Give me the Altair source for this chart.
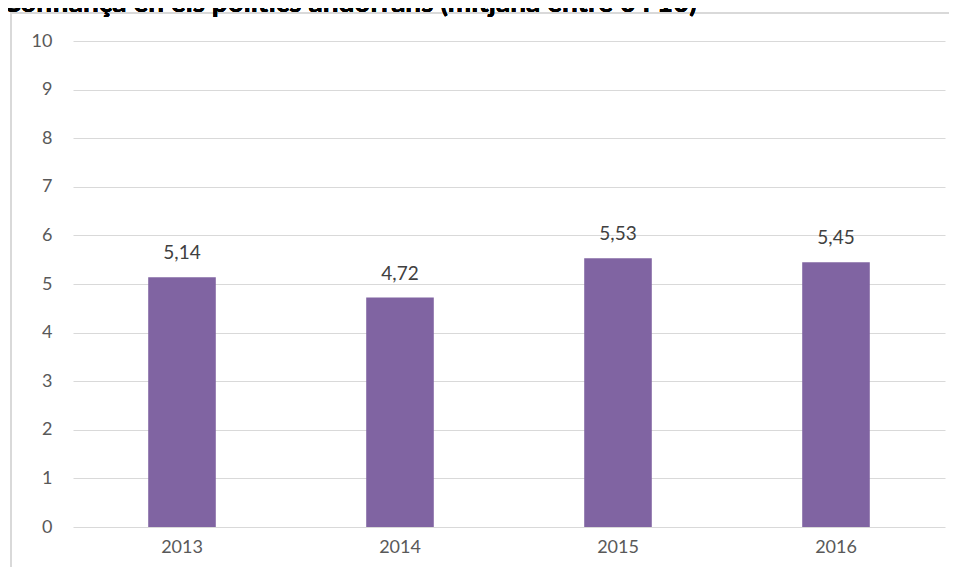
import altair as alt
import pandas as pd

years = ["2013", "2014", "2015", "2016"]
values = [5.14, 4.72, 5.53, 5.45]
y_ticks = list(range(0, 11))
title_text = "Confiança en els polítics andorrans (mitjana entre 0 i 10)"

df = pd.DataFrame({"year": years, "value": values})

W, H = 872, 486
FONT = "Lato"

x_enc = alt.X("year:N", sort=years, title=None,
              scale=alt.Scale(paddingInner=0.69, paddingOuter=0.345),
              axis=alt.Axis(labelAngle=0, domain=False, ticks=False, labelPadding=11,
                            labelFontSize=18, labelColor="#595959", labelFont=FONT, grid=False))
y_enc = alt.Y("value:Q", title=None,
              scale=alt.Scale(domain=[0, 10], nice=False),
              axis=alt.Axis(values=y_ticks, domain=False, ticks=False, labelPadding=21,
                            labelFontSize=18, labelColor="#595959", labelFont=FONT,
                            grid=True, gridColor="#d9d9d9", gridWidth=1))

bars = alt.Chart(df).mark_bar(color="#8064A2").encode(x=x_enc, y=y_enc)

labels = alt.Chart(df).transform_calculate(
    label="replace(format(datum.value, '.2f'), '.', ',')"
).mark_text(dy=-24, fontSize=19, font=FONT, color="#404040").encode(
    x=alt.X("year:N", sort=years), y="value:Q", text="label:N")

border = alt.Chart(df).mark_rect(fill=None, stroke="#d9d9d9", strokeWidth=1.5).encode(
    x=alt.value(-62), x2=alt.value(W + 30), y=alt.value(-28), y2=alt.value(H + 60))

title = alt.Chart(df).mark_text(align="left", baseline="alphabetic", fontSize=28,
                                fontWeight="bold", font=FONT, color="#000000").encode(
    x=alt.value(-71), y=alt.value(-29), text=alt.value(title_text))

chart = alt.layer(border, bars, labels, title).properties(
    width=W, height=H,
    autosize=alt.AutoSizeParams(type="none"),
    padding={"left": 65, "top": 33, "right": 4, "bottom": 40},
).configure_view(stroke=None)

chart.save("out.html", embed_options={"renderer": "svg", "actions": False})
